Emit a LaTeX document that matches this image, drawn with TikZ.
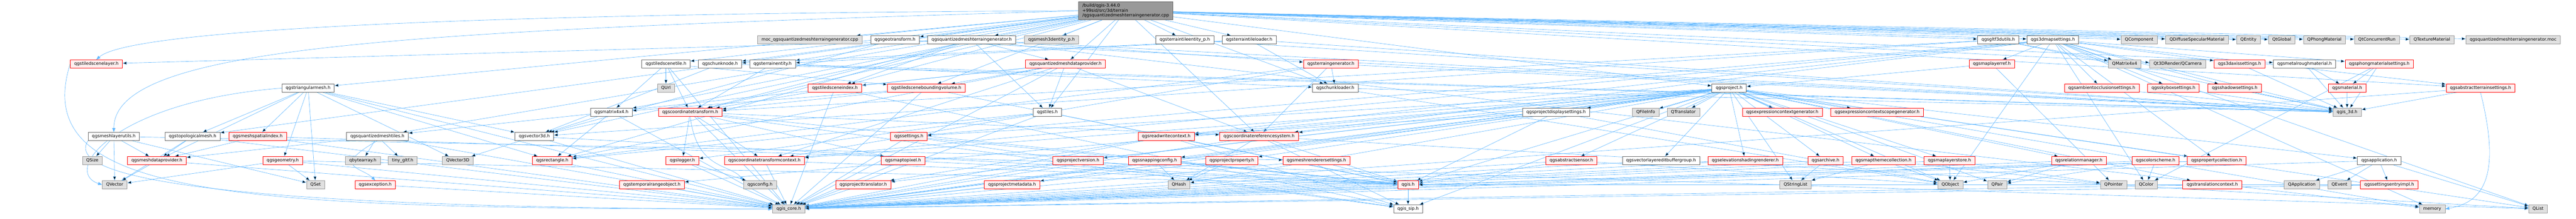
\documentclass[tikz,border=0pt]{standalone}
\usepackage{fontspec}
\setmainfont{DejaVu Sans}
\usepackage{tikz}
\usetikzlibrary{positioning,arrows.meta,backgrounds}
\definecolor{edgeblue}{HTML}{63B8FF}
\definecolor{truncfill}{HTML}{FFF0F0}
\definecolor{extline}{HTML}{999999}
\definecolor{extfill}{HTML}{E0E0E0}
\definecolor{fileline}{HTML}{666666}
\definecolor{rootfill}{HTML}{999999}
\newcommand{\graphfont}{\fontsize{6.4pt}{7.25pt}\selectfont}
\tikzset{
  every node/.style={
    font=\graphfont,
    inner xsep=5.75pt,
    inner ysep=3pt,
    line width=0.5pt
  },
  onerow/.style={text height=4.75pt, text depth=1.5pt},
  plainfile/.style={onerow, draw=fileline, fill=white},
  truncfile/.style={onerow, draw=red, fill=truncfill},
  extfile/.style={onerow, draw=extline, fill=extfill},
  rootfile/.style={draw=fileline, fill=rootfill, align=left},
  dep/.style={draw=edgeblue, line width=0.5pt, -{Triangle[length=6pt,width=4.5pt]}}
}

\begin{document}
\begin{tikzpicture}
        \useasboundingbox (0pt,0pt) rectangle (3829.5pt,-326pt);
        \node [rootfile] (root) at (1673.5pt,-16pt) {/build/qgis-3.44.0\\+99sid/src/3d/terrain\\/qgsquantizedmeshterraingenerator.cpp};
        % first row of includes
        \node [extfile, on grid, below left=43.25pt and 469.5pt of root] (moccpp) {moc\_qgsquantizedmeshterraingenerator.cpp};
        \node [plainfile, on grid, right=126.5pt of moccpp] (geotr) {qgsgeotransform.h};
        \node [plainfile, on grid, right=114pt of geotr] (qmtgh) {qgsquantizedmeshterraingenerator.h};
        \node [extfile, on grid, right=118.75pt of qmtgh] (mesh3d) {qgsmesh3dentity\_p.h};
        \node [plainfile, on grid, right=198pt of mesh3d] (tileent) {qgsterraintileentity\_p.h};
        \node [plainfile, on grid, right=95.75pt of tileent] (tileload) {qgsterraintileloader.h};
        \node [plainfile, on grid, right=1113.5pt of tileload] (gltf) {qgsgltf3dutils.h};
        \node [plainfile, on grid, right=81.25pt of gltf] (mapset) {qgs3dmapsettings.h};
        \node [extfile, on grid, right=128.25pt of mapset] (qcomp) {QComponent};
        \node [extfile, on grid, right=86pt of qcomp] (qdiff) {QDiffuseSpecularMaterial};
        \node [extfile, on grid, right=76.5pt of qdiff] (qentity) {QEntity};
        \node [extfile, on grid, right=49.5pt of qentity] (qtglobal) {QtGlobal};
        \node [extfile, on grid, right=63.5pt of qtglobal] (qphong) {QPhongMaterial};
        \node [extfile, on grid, right=78pt of qphong] (qtconc) {QtConcurrentRun};
        \node [extfile, on grid, right=81.75pt of qtconc] (qtexmat) {QTextureMaterial};
        \node [extfile, on grid, right=120.75pt of qtexmat] (moc) {qgsquantizedmeshterraingenerator.moc};
        % second row
        \node [truncfile, on grid, below left=79.25pt and 1530.25pt of root] (tslayer) {qgstiledscenelayer.h};
        \node [plainfile, on grid, right=846.75pt of tslayer] (tstile) {qgstiledscenetile.h};
        \node [plainfile, on grid, right=80.5pt of tstile] (chunknode) {qgschunknode.h};
        \node [plainfile, on grid, right=78pt of chunknode] (terrent) {qgsterrainentity.h};
        \node [truncfile, on grid, right=435.5pt of terrent] (qmdp) {qgsquantizedmeshdataprovider.h};
        \node [truncfile, on grid, right=394.5pt of qmdp] (terrgen) {qgsterraingenerator.h};
        \node [truncfile, on grid, right=982.5pt of terrgen] (mlref) {qgsmaplayerref.h};
        \node [extfile, on grid, right=197.5pt of mlref] (qmat4) {QMatrix4x4};
        \node [extfile, on grid, right=78.75pt of qmat4] (qcamera) {Qt3DRender/QCamera};
        \node [truncfile, on grid, right=92pt of qcamera] (axis) {qgs3daxissettings.h};
        \node [plainfile, on grid, right=96.75pt of axis] (metal) {qgsmetalroughmaterial.h};
        \node [truncfile, on grid, right=111pt of metal] (phongset) {qgsphongmaterialsettings.h};
        % third row
        \node [plainfile, on grid, below left=115.25pt and 1215.5pt of root] (trimesh) {qgstriangularmesh.h};
        \node [extfile, on grid, right=532pt of trimesh] (qurl) {QUrl};
        \node [truncfile, on grid, right=251.25pt of qurl] (tsindex) {qgstiledsceneindex.h};
        \node [truncfile, on grid, right=135.75pt of tsindex] (tsbv) {qgstiledsceneboundingvolume.h};
        \node [plainfile, on grid, right=608pt of tsbv] (chunkload) {qgschunkloader.h};
        \node [plainfile, on grid, right=585.5pt of chunkload] (project) {qgsproject.h};
        \node [truncfile, on grid, right=554pt of project] (ao) {qgsambientocclusionsettings.h};
        \node [truncfile, on grid, right=106.5pt of ao] (skybox) {qgsskyboxsettings.h};
        \node [truncfile, on grid, right=91pt of skybox] (shadow) {qgsshadowsettings.h};
        \node [truncfile, on grid, right=167.25pt of shadow] (material) {qgsmaterial.h};
        \node [truncfile, on grid, right=198.25pt of material] (absterr) {qgsabstractterrainsettings.h};
        % fourth row
        \node [plainfile, on grid, below left=151.25pt and 764.5pt of root] (mat4) {qgsmatrix4x4.h};
        \node [truncfile, on grid, right=117pt of mat4] (ctrans) {qgscoordinatetransform.h};
        \node [plainfile, on grid, right=531pt of ctrans] (tiles) {qgstiles.h};
        \node [plainfile, on grid, right=756.25pt of tiles] (pdisp) {qgsprojectdisplaysettings.h};
        \node [extfile, on grid, right=133.25pt of pdisp] (qfileinfo) {QFileInfo};
        \node [extfile, on grid, right=56pt of qfileinfo] (qtransl) {QTranslator};
        \node [truncfile, on grid, right=147pt of qtransl] (ecgen) {qgsexpressioncontextgenerator.h};
        \node [truncfile, on grid, right=141pt of ecgen] (ecsgen) {qgsexpressioncontextscopegenerator.h};
        \node [extfile, on grid, right=698.7pt of ecsgen] (qgis3d) {qgis\_3d.h};
        % fifth row
        \node [plainfile, on grid, below left=187.25pt and 1504.3pt of root] (mlutils) {qgsmeshlayerutils.h};
        \node [plainfile, on grid, right=117pt of mlutils] (topo) {qgstopologicalmesh.h};
        \node [truncfile, on grid, right=96.8pt of topo] (msindex) {qgsmeshspatialindex.h};
        \node [plainfile, on grid, right=178pt of msindex] (qmtiles) {qgsquantizedmeshtiles.h};
        \node [plainfile, on grid, right=233.3pt of qmtiles] (vec3d) {qgsvector3d.h};
        \node [truncfile, on grid, right=556.7pt of vec3d] (settings) {qgssettings.h};
        \node [truncfile, on grid, right=382.65pt of settings] (rwctx) {qgsreadwritecontext.h};
        \node [truncfile, on grid, right=138pt of rwctx] (crs) {qgscoordinatereferencesystem.h};
        % sixth row
        \node [extfile, on grid, below left=223.25pt and 1536.25pt of root] (qsize) {QSize};
        \node [truncfile, on grid, right=96pt of qsize] (mdp) {qgsmeshdataprovider.h};
        \node [truncfile, on grid, right=187.1pt of mdp] (geom) {qgsgeometry.h};
        \node [extfile, on grid, right=118.9pt of geom] (qbytearray) {qbytearray.h};
        \node [extfile, on grid, right=59.25pt of qbytearray] (tinygltf) {tiny\_gltf.h};
        \node [extfile, on grid, right=82pt of tinygltf] (qvec3d) {QVector3D};
        \node [truncfile, on grid, right=140.5pt of qvec3d] (rect) {qgsrectangle.h};
        \node [truncfile, on grid, right=193.5pt of rect] (logger) {qgslogger.h};
        \node [truncfile, on grid, right=122pt of logger] (ctctx) {qgscoordinatetransformcontext.h};
        \node [truncfile, on grid, right=206pt of ctctx] (m2p) {qgsmaptopixel.h};
        \node [truncfile, on grid, right=260pt of m2p] (pversion) {qgsprojectversion.h};
        \node [truncfile, on grid, right=113.85pt of pversion] (snap) {qgssnappingconfig.h};
        \node [truncfile, on grid, right=114.9pt of snap] (pprop) {qgsprojectproperty.h};
        \node [truncfile, on grid, right=125.75pt of pprop] (mrset) {qgsmeshrenderersettings.h};
        \node [truncfile, on grid, right=379pt of mrset] (sensor) {qgsabstractsensor.h};
        \node [plainfile, on grid, right=133.25pt of sensor] (vleb) {qgsvectorlayereditbuffergroup.h};
        \node [truncfile, on grid, right=125.25pt of vleb] (elev) {qgselevationshadingrenderer.h};
        \node [truncfile, on grid, right=119.25pt of elev] (archive) {qgsarchive.h};
        \node [truncfile, on grid, right=86.25pt of archive] (mtc) {qgsmapthemecollection.h};
        \node [truncfile, on grid, right=98pt of mtc] (mlstore) {qgsmaplayerstore.h};
        \node [truncfile, on grid, right=192.5pt of mlstore] (relman) {qgsrelationmanager.h};
        \node [truncfile, on grid, right=114pt of relman] (cscheme) {qgscolorscheme.h};
        \node [truncfile, on grid, right=90.75pt of cscheme] (propcol) {qgspropertycollection.h};
        \node [plainfile, on grid, right=241.5pt of propcol] (app) {qgsapplication.h};
        % seventh row
        \node [extfile, on grid, below left=259.25pt and 1503pt of root] (qvector) {QVector};
        \node [extfile, on grid, right=298.7pt of qvector] (qset) {QSet};
        \node [truncfile, on grid, right=88.65pt of qset] (exception) {qgsexception.h};
        \node [truncfile, on grid, right=411.3pt of exception] (tro) {qgstemporalrangeobject.h};
        \node [extfile, on grid, right=160.6pt of tro] (config) {qgsconfig.h};
        \node [truncfile, on grid, right=153.5pt of config] (ptransl) {qgsprojecttranslator.h};
        \node [truncfile, on grid, right=221.25pt of ptransl] (pmeta) {qgsprojectmetadata.h};
        \node [extfile, on grid, right=248pt of pmeta] (qhash) {QHash};
        \node [truncfile, on grid, right=340.7pt of qhash] (qgis) {qgis.h};
        \node [extfile, on grid, right=576.05pt of qgis] (qstringlist) {QStringList};
        \node [extfile, on grid, right=230pt of qstringlist] (qobject) {QObject};
        \node [extfile, on grid, right=69.75pt of qobject] (qpair) {QPair};
        \node [extfile, on grid, right=173pt of qpair] (qpointer) {QPointer};
        \node [extfile, on grid, right=48.5pt of qpointer] (qcolor) {QColor};
        \node [truncfile, on grid, right=98.2pt of qcolor] (trctx) {qgstranslationcontext.h};
        \node [extfile, on grid, right=133.15pt of trctx] (qapp) {QApplication};
        \node [extfile, on grid, right=56pt of qapp] (qevent) {QEvent};
        \node [truncfile, on grid, right=73.9pt of qevent] (seimpl) {qgssettingsentryimpl.h};
        % bottom row
        \node [extfile, on grid, below left=295.25pt and 501pt of root] (core) {qgis\_core.h};
        \node [plainfile, on grid, right=920.7pt of core] (sip) {qgis\_sip.h};
        \node [extfile, on grid, right=1522.5pt of sip] (memory) {memory};
        \node [extfile, on grid, right=157.3pt of memory] (qlist) {QList};

        \begin{scope}[on background layer]
        \draw[dep] (root) edge (moccpp) edge (geotr) edge (qmtgh) edge (mesh3d) edge (tileent) edge (tileload) edge (gltf) edge (mapset) edge (qcomp) edge (qdiff) edge (qentity) edge (qtglobal) edge (qphong) edge (qtconc) edge (qtexmat) edge (moc);
        \draw[dep] (root) edge (tstile) edge (chunknode) edge (terrent) edge (qmdp) edge (qcamera) edge (metal) edge (trimesh) edge (tsindex) edge (tsbv) edge (chunkload) edge (project) edge (absterr) edge (mat4) edge (ctrans) edge (tiles) edge (topo) edge (qmtiles) edge (vec3d) edge (crs);
        \draw[dep] (root.west) .. controls +(-900pt,-4pt) and +(50pt,45pt) .. (tslayer.north);
        \draw[dep] (root.west) .. controls +(-1000pt,-30pt) and +(0pt,130pt) .. (mlutils.north);
        \draw[dep] (qmtgh) edge (terrgen) edge (qmdp) edge (tiles) edge (tslayer) edge (ctrans) edge (rect) edge (qgis3d) edge (tsindex) edge (memory);
        \draw[dep] (geotr) edge (vec3d) edge (qgis3d);
        \draw[dep] (tileent) edge (qgis3d);
        \draw[dep] (tileload) edge (chunknode) edge (terrent) edge (chunkload) edge (qgis3d);
        \draw[dep] (gltf) edge (qgis3d) edge (qmat4) edge (ctrans) edge (vec3d);
        \draw[dep] (mapset) edge (mlref) edge (qmat4) edge (ao) edge (skybox) edge (shadow) edge (axis) edge (phongset) edge (absterr) edge (crs) edge (rwctx) edge (ctctx) edge (propcol) edge (qgis3d) edge (qcolor) edge (qobject) edge (settings) edge (memory) edge (qlist);
        \draw[dep] (tslayer.west) .. controls +(-63pt,-200pt) and +(-800pt,0pt) .. (core.west);
        \draw[dep] (tstile) edge (qurl) edge (mat4) edge (ctrans) edge (tsbv) edge (core);
        \draw[dep] (chunknode) edge (qgis3d) edge (vec3d);
        \draw[dep] (terrent) edge (chunkload) edge (ctrans) edge (qgis3d);
        \draw[dep] (qmdp) edge (tsindex) edge (tsbv) edge (tiles) edge (qmtiles) edge (crs) edge (ctctx) edge (rect) edge (core);
        \draw[dep] (terrgen) edge (chunkload) edge (qgis3d) edge (rect) edge (crs) edge (ctctx);
        \draw[dep] (mlref) edge (project) edge (qpointer);
        \draw[dep] (axis) edge (qgis3d);
        \draw[dep] (metal) edge (material) edge (qgis3d);
        \draw[dep] (phongset) edge (material) edge (qgis3d) edge (qcolor);
        \draw[dep] (trimesh) edge (topo) edge (msindex) edge (vec3d) edge (mdp) edge (geom) edge (qvec3d) edge (rect) edge (qset) edge (core);
        \draw[dep] (trimesh.west) .. controls +(-250pt,-20pt) and +(-60pt,20pt) .. (qvector.west);
        \draw[dep] (tsindex) edge (ctrans) edge (core) edge (sip);
        \draw[dep] (tsbv) edge (mat4) edge (ctrans) edge (qgis) edge (core);
        \draw[dep] (chunkload) edge (qgis3d) edge (qobject);
        \draw[dep] (project) edge (pdisp) edge (qfileinfo) edge (qtransl) edge (ecgen) edge (ecsgen) edge (rwctx) edge (crs) edge (settings) edge (ctctx) edge (pversion) edge (snap) edge (pprop) edge (sensor) edge (vleb) edge (elev) edge (archive) edge (mtc) edge (mlstore) edge (relman) edge (propcol) edge (app) edge (tro) edge (ptransl) edge (pmeta) edge (qhash) edge (qgis) edge (qstringlist) edge (qobject) edge (qpair) edge (trctx) edge (core) edge (sip) edge (memory) edge (qlist);
        \draw[dep] (ao) edge (qgis3d);
        \draw[dep] (skybox) edge (qgis3d);
        \draw[dep] (shadow) edge (qgis3d);
        \draw[dep] (material) edge (qgis3d);
        \draw[dep] (absterr) edge (qgis3d) edge (core);
        \draw[dep] (absterr.south) .. controls +(30pt,-120pt) and +(60pt,10pt) .. (memory.east);
        \draw[dep] (mat4) edge (vec3d) edge (rect) edge (core);
        \draw[dep] (ctrans) edge (crs) edge (ctctx) edge (logger) edge (m2p) edge (core) edge (qgis) edge (sip);
        \draw[dep] (ctrans.south) .. controls +(10pt,-80pt) and +(-20pt,25pt) .. (config.north west);
        \draw[dep] (tiles) edge (rect) edge (logger) edge (qgis) edge (core);
        \draw[dep] (pdisp) edge (rwctx) edge (qgis) edge (qobject) edge (core);
        \draw[dep] (mlutils) edge (qsize) edge (mdp) edge (mrset) edge (qvector) edge (qset);
        \draw[dep] (mlutils.south west) .. controls +(-60pt,-90pt) and +(-400pt,0pt) .. (core.west);
        \draw[dep] (topo) edge (mdp) edge (qvector) edge (core);
        \draw[dep] (msindex) edge (mdp) edge (core) edge (qlist);
        \draw[dep] (qmtiles) edge (mdp) edge (qbytearray) edge (tinygltf) edge (core);
        \draw[dep] (qmtiles.south) .. controls +(-70pt,-40pt) and +(-20pt,20pt) .. (exception.north);
        \draw[dep] (vec3d) edge (qvec3d) edge (qgis) edge (core);
        \draw[dep] (settings) edge (qgis) edge (core) edge (sip);
        \draw[dep] (rwctx) edge (ptransl) edge (qgis) edge (core) edge (sip);
        \draw[dep] (crs) edge (qhash) edge (qgis) edge (core) edge (sip) edge (qlist);
        \draw[dep] (mdp) edge (qvector) edge (core);
        \draw[dep] (geom) edge (qset) edge (qvector) edge (qgis) edge (core);
        \draw[dep] (rect) edge (core);
        \draw[dep] (logger) edge (config) edge (core);
        \draw[dep] (ctctx) edge (qgis) edge (core);
        \draw[dep] (m2p) edge (qgis) edge (core);
        \draw[dep] (pversion) edge (qgis) edge (core);
        \draw[dep] (snap) edge (qhash) edge (qgis) edge (core);
        \draw[dep] (pprop) edge (qhash) edge (core);
        \draw[dep] (mrset) edge (qgis) edge (core);
        \draw[dep] (sensor) edge (qgis) edge (qobject) edge (core);
        \draw[dep] (vleb) edge (core);
        \draw[dep] (elev) edge (core);
        \draw[dep] (archive) edge (qstringlist) edge (core);
        \draw[dep] (mtc) edge (qstringlist) edge (qobject) edge (qpointer) edge (core);
        \draw[dep] (mlstore) edge (qobject) edge (qpointer) edge (core);
        \draw[dep] (relman) edge (qpair) edge (qobject) edge (core);
        \draw[dep] (cscheme) edge (qcolor) edge (qpair) edge (core);
        \draw[dep] (propcol) edge (qgis) edge (core);
        \draw[dep] (app) edge (qapp) edge (qevent) edge (seimpl) edge (core) edge (qlist);
        \draw[dep] (trctx) edge (core);
        \draw[dep] (seimpl) edge (qgis) edge (core);
        \draw[dep] (exception) edge (core);
        \draw[dep] (tro) edge (core);
        \draw[dep] (ptransl) edge (core);
        \draw[dep] (pmeta) edge (core);
        \draw[dep] (qgis) edge (sip) edge (core);
        \end{scope}
      \end{tikzpicture}
\end{document}
